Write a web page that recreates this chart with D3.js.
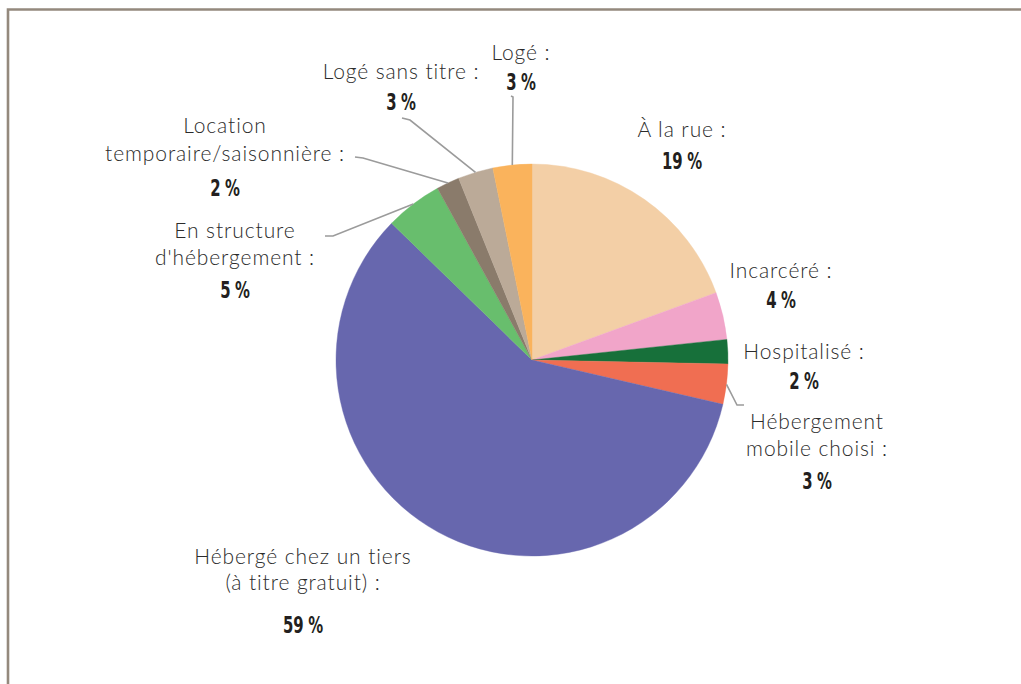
<!DOCTYPE html>
<html>
<head>
<meta charset="utf-8">
<script src="https://cdn.jsdelivr.net/npm/d3@7"></script>
<style>
  html, body { margin: 0; padding: 0; background: #fff; }
  svg { display: block; }
  .lbl { font-family: Lato, "Open Sans", sans-serif; font-weight: 300; fill: #2b2b2b; }
  .num { font-family: "DejaVu Sans Condensed", "DejaVu Sans", sans-serif; font-weight: bold; fill: #231f20; }
</style>
</head>
<body>
<svg id="chart" width="1021" height="684"></svg>
<script>
// ---- Data (clockwise from 12 o'clock) ----
const categories = [
  "À la rue",
  "Incarcéré",
  "Hospitalisé",
  "Hébergement mobile choisi",
  "Hébergé chez un tiers (à titre gratuit)",
  "En structure d'hébergement",
  "Location temporaire/saisonnière",
  "Logé sans titre",
  "Logé"
];
const values = [19.4, 3.9, 2.0, 3.3, 58.6, 4.7, 1.9, 2.9, 3.2];
const labelLines = [
  ["À la rue :"],
  ["Incarcéré :"],
  ["Hospitalisé :"],
  ["Hébergement", "mobile choisi :"],
  ["Hébergé chez un tiers", "(à titre gratuit) :"],
  ["En structure", "d'hébergement :"],
  ["Location", "temporaire/saisonnière :"],
  ["Logé sans titre :"],
  ["Logé :"]
];
const pctLabels = ["19 %", "4 %", "2 %", "3 %", "59 %", "5 %", "2 %", "3 %", "3 %"];
const colors = ["#F3CFA6", "#F1A5C9", "#17703A", "#F06E52", "#6767AE", "#68BE6D", "#8A7B6B", "#BBAA98", "#FAB35C"];

// ---- Layout ----
const W = 1021, H = 684;
const cx = 532, cy = 360, R = 196;
const layout = [
  { x: 682, lines: [137], pct: 169, leader: null },
  { x: 781, lines: [278], pct: 308, leader: null },
  { x: 804, lines: [359], pct: 389, leader: null },
  { x: 817, lines: [429, 455.5], pct: 489, leader: [[737, 405], [744, 405]] },
  { x: 303, lines: [564, 590], pct: 633, leader: null },
  { x: 235, lines: [238, 265], pct: 298, leader: [[333, 236], [325, 236]] },
  { x: 225, lines: [133, 161], pct: 196, leader: [[363, 158], [355, 157]] },
  { x: 401, lines: [79], pct: 110, leader: [[410, 120], [402, 118]] },
  { x: 521, lines: [60], pct: 90, leader: [[513, 97], [511, 96]] }
];

const svg = d3.select("#chart");

svg.append("path")
  .attr("d", `M8,${H} V9.5 H${W}`)
  .attr("fill", "none")
  .attr("stroke", "#94897D")
  .attr("stroke-width", 2.6);

const pie = d3.pie().sort(null).value(d => d).startAngle(0).endAngle(2 * Math.PI);
const arcs = pie(values);
const arc = d3.arc().innerRadius(0).outerRadius(R);

const g = svg.append("g").attr("transform", `translate(${cx},${cy})`);
g.selectAll("path.slice")
  .data(arcs)
  .join("path")
  .attr("class", "slice")
  .attr("d", arc)
  .attr("fill", (d, i) => colors[i])
  .attr("stroke", (d, i) => colors[i])
  .attr("stroke-width", 0.4);

arcs.forEach((a, i) => {
  const L = layout[i].leader;
  if (!L) return;
  const mid = (a.startAngle + a.endAngle) / 2;
  const p0 = [cx + R * Math.sin(mid), cy - R * Math.cos(mid)];
  svg.append("path")
    .attr("d", d3.line()([p0].concat(L)))
    .attr("fill", "none")
    .attr("stroke", "#9b9b9b")
    .attr("stroke-width", 1.6);
});

layout.forEach((l, i) => {
  labelLines[i].forEach((t, j) => {
    svg.append("text")
      .attr("class", "lbl")
      .attr("x", l.x)
      .attr("y", l.lines[j])
      .attr("text-anchor", "middle")
      .attr("font-size", 21)
      .attr("letter-spacing", 0.9)
      .text(t);
  });
  svg.append("text")
    .attr("class", "num")
    .attr("text-anchor", "middle")
    .attr("font-size", 23)
    .attr("word-spacing", -1)
    .attr("transform", `translate(${l.x},${l.pct}) scale(0.72,1)`)
    .text(pctLabels[i]);
});
</script>
</body>
</html>
